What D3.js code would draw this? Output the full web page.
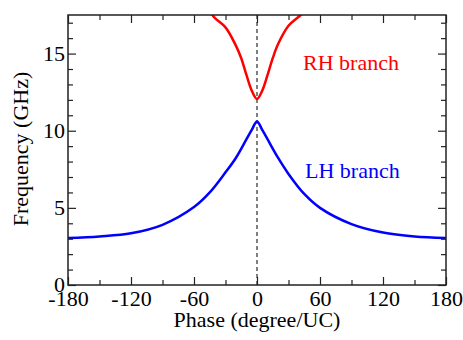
<!DOCTYPE html>
<html>
<head>
<meta charset="utf-8">
<script src="https://cdn.jsdelivr.net/npm/d3@7"></script>
<style>
  body { margin: 0; background: #fff; }
  text { font-family: "Liberation Serif", "Times New Roman", serif; }
</style>
</head>
<body>
<div id="plot_area"></div>
<script>
// phase in degree/UC, frequency in GHz
const lhPhase = [-180, -150, -120, -90, -60, -45, -30, -20, -10, -5, 0, 5, 10, 20, 30, 45, 60, 90, 120, 150, 180]
const lhFreq  = [3.05, 3.15, 3.35, 3.9, 5.05, 6.0, 7.3, 8.25, 9.45, 10.05, 10.6, 10.05, 9.45, 8.25, 7.2, 5.9, 5.0, 3.95, 3.4, 3.15, 3.05]

const rhPhase = [-55, -45, -40, -30, -20, -15, -10, -5, 0, 5, 10, 15, 20, 30, 40, 45, 55]
const rhFreq  = [18.4, 17.7, 17.3, 16.7, 15.5, 14.7, 13.6, 12.6, 12.05, 12.6, 13.6, 14.7, 15.6, 16.8, 17.4, 17.7, 18.4]

const xMajor = [-180, -120, -60, 0, 60, 120, 180]
const xMinor = [-150, -90, -30, 30, 90, 150]
const yMajor = [0, 5, 10, 15]
const yMinor = [1, 2, 3, 4, 6, 7, 8, 9, 11, 12, 13, 14, 16, 17]

const margin = { top: 15, right: 17, bottom: 55, left: 68 },
   svgWidth = 463,
   svgHeight = 340,
   chartWidth = svgWidth - margin.left - margin.right,
   chartHeight = svgHeight - margin.top - margin.bottom

const svg = d3.select('#plot_area').append('svg')
    .attr('width', svgWidth)
    .attr('height', svgHeight)

let chartGroup = svg.append('g')
    .attr('transform', `translate(${margin.left}, ${margin.top})`)

let x = d3.scaleLinear().domain([-180, 180]).range([0, chartWidth])
let y = d3.scaleLinear().domain([0, 17.5]).range([chartHeight, 0])

chartGroup.append('clipPath').attr('id', 'clip')
    .append('rect').attr('width', chartWidth).attr('height', chartHeight)

// dashed line at 0
chartGroup.append('line')
    .attr('x1', x(0)).attr('x2', x(0))
    .attr('y1', 0).attr('y2', chartHeight)
    .attr('stroke', '#555')
    .attr('stroke-width', 1.5)
    .attr('stroke-dasharray', '4,3')

let line = d3.line()
    .x(d => x(d[0]))
    .y(d => y(d[1]))
    .curve(d3.curveCatmullRom)

let curves = chartGroup.append('g').attr('clip-path', 'url(#clip)')

curves.append('path')
    .datum(lhPhase.map((p, i) => [p, lhFreq[i]]))
    .attr('d', line)
    .attr('fill', 'none')
    .attr('stroke', '#0000ff')
    .attr('stroke-width', 2.5)

curves.append('path')
    .datum(rhPhase.map((p, i) => [p, rhFreq[i]]))
    .attr('d', line)
    .attr('fill', 'none')
    .attr('stroke', '#ff0000')
    .attr('stroke-width', 2.5)

// axes, ticks inward on all four sides
function styleAxis(g) {
    g.selectAll('.domain').remove()
    g.selectAll('line').attr('stroke', '#222').attr('stroke-width', 1.2)
    g.selectAll('text').attr('font-size', 22).attr('fill', '#000')
        .style('font-family', '"Liberation Serif", serif')
}

chartGroup.append('g')
    .attr('transform', `translate(0, ${chartHeight})`)
    .call(d3.axisBottom(x).tickValues(xMajor).tickSize(-8).tickPadding(5).tickFormat(d => d))
    .call(styleAxis)
chartGroup.append('g')
    .attr('transform', `translate(0, ${chartHeight})`)
    .call(d3.axisBottom(x).tickValues(xMinor).tickSize(-5).tickFormat(''))
    .call(styleAxis)
chartGroup.append('g')
    .call(d3.axisTop(x).tickValues(xMajor).tickSize(-8).tickFormat(''))
    .call(styleAxis)
chartGroup.append('g')
    .call(d3.axisTop(x).tickValues(xMinor).tickSize(-5).tickFormat(''))
    .call(styleAxis)

chartGroup.append('g')
    .call(d3.axisLeft(y).tickValues(yMajor).tickSize(-8).tickPadding(3).tickFormat(d => d))
    .call(styleAxis)
    .selectAll('text').attr('dy', '0.3em')
chartGroup.append('g')
    .call(d3.axisLeft(y).tickValues(yMinor).tickSize(-5).tickFormat(''))
    .call(styleAxis)
chartGroup.append('g')
    .attr('transform', `translate(${chartWidth}, 0)`)
    .call(d3.axisRight(y).tickValues(yMajor).tickSize(-8).tickFormat(''))
    .call(styleAxis)
chartGroup.append('g')
    .attr('transform', `translate(${chartWidth}, 0)`)
    .call(d3.axisRight(y).tickValues(yMinor).tickSize(-5).tickFormat(''))
    .call(styleAxis)

chartGroup.append('rect')
    .attr('width', chartWidth)
    .attr('height', chartHeight)
    .attr('fill', 'none')
    .attr('stroke', '#222')
    .attr('stroke-width', 1.5)

// branch labels
chartGroup.append('text')
    .attr('x', 235).attr('y', 55)
    .attr('fill', '#ff0000')
    .attr('font-size', 22)
    .text('RH branch')

chartGroup.append('text')
    .attr('x', 237).attr('y', 163)
    .attr('fill', '#0000ff')
    .attr('font-size', 22)
    .text('LH branch')

// axis titles
svg.append('text')
    .attr('x', margin.left + chartWidth / 2)
    .attr('y', 327)
    .attr('text-anchor', 'middle')
    .attr('font-size', 22)
    .text('Phase (degree/UC)')

svg.append('text')
    .attr('transform', `translate(28, ${margin.top + chartHeight / 2 - 1}) rotate(-90)`)
    .attr('text-anchor', 'middle')
    .attr('font-size', 22)
    .text('Frequency (GHz)')
</script>
</body>
</html>
